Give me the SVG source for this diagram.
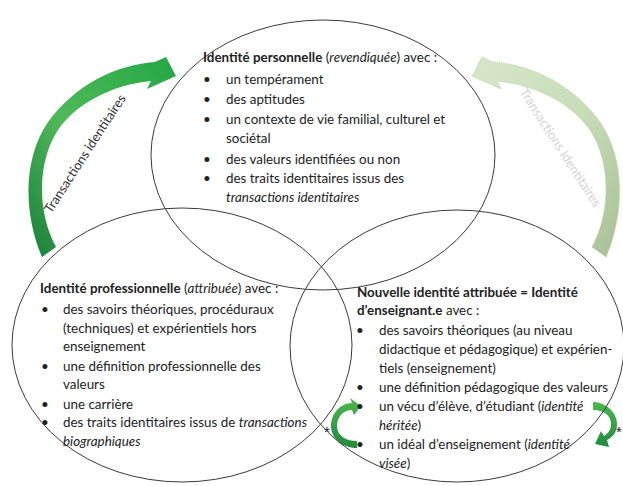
<svg xmlns="http://www.w3.org/2000/svg" width="623" height="486" viewBox="0 0 623 486">
<defs>
<style>
.ell{fill:none;stroke:#3a3a3a;stroke-width:1}
text{font-family:Lato,"Open Sans","Liberation Sans",sans-serif;font-size:13.4px;fill:#222}
.b{font-weight:bold}
.i{font-style:italic}
.arrowtxt{font-size:13px;fill:#333}
.arrowtxt2{font-size:13px;fill:#d4d4d4}
.star{font-family:"Liberation Sans",sans-serif;font-size:15px;fill:#222;text-anchor:middle}
</style>
<linearGradient id="gBig" x1="0" y1="1" x2="1" y2="0">
<stop offset="0" stop-color="#17803a"/>
<stop offset="0.45" stop-color="#4fb958"/>
<stop offset="1" stop-color="#22a844"/>
</linearGradient>
<linearGradient id="gPale" x1="0" y1="1" x2="1" y2="0">
<stop offset="0" stop-color="#a6c196"/>
<stop offset="0.5" stop-color="#c9ddb9"/>
<stop offset="1" stop-color="#d6e7c9"/>
</linearGradient>
<linearGradient id="gSmall" x1="0" y1="0" x2="0" y2="1">
<stop offset="0" stop-color="#4cb84f"/>
<stop offset="1" stop-color="#1e8c3a"/>
</linearGradient>
</defs>

<g id="connectors">
<path id="arrow-left" fill="url(#gBig)" d="M42,257 C24,215 22,160 48,122 C75,85 115,65 155,62 L166,57 L176,76 L147,89 L151,81 C110,85 75,105 58,130 C38,160 36,210 56,247 Z"/>
<g id="arrow-right" transform="translate(648,0) scale(-1,1)">
<path fill="url(#gPale)" stroke="#b7d3a3" stroke-width="1" stroke-dasharray="1 1" d="M42,257 C24,215 22,160 48,122 C75,85 115,65 155,62 L166,57 L176,76 L147,89 L151,81 C110,85 75,105 58,130 C38,160 36,210 56,247 Z"/>
</g>
<text class="arrowtxt" transform="translate(51,214) rotate(-57)">Transactions identitaires</text>
<text class="arrowtxt2" transform="translate(519,92) rotate(57)">Transactions identitaires</text>
<path id="arrow-small-left" fill="url(#gSmall)" d="M352,403 C340,403 331,414 331,426 C331,438 342,448 357,448 L357,441 C345,441 337,435 337,426 C337,417 343,410 352,410 L354,415 L361,406 L350,398 Z"/>
<path id="arrow-small-right" fill="url(#gSmall)" d="M593,402 C605,402 617,412 617,424 C617,432 613,437 607,440 L609,447 L595,444 L601,431 L604,436 C609,433 611,429 611,424 C611,415 603,410 593,410 Z"/>
<text class="star" x="327" y="437">*</text>
<text class="star" x="619" y="437">*</text>
</g>

<g id="node-personnelle">
<ellipse class="ell" cx="323" cy="155" rx="172" ry="135"/>
<text x="203" y="62"><tspan class="b">Identité personnelle</tspan> (<tspan class="i">revendiquée</tspan>) avec :</text>
<text x="203" y="84">•</text><text x="226" y="84">un tempérament</text>
<text x="203" y="104">•</text><text x="226" y="104">des aptitudes</text>
<text x="203" y="124">•</text><text x="226" y="124">un contexte de vie familial, culturel et</text>
<text x="226" y="143">sociétal</text>
<text x="203" y="164">•</text><text x="226" y="164">des valeurs identifiées ou non</text>
<text x="203" y="183">•</text><text x="226" y="183">des traits identitaires issus des</text>
<text x="226" y="202" class="i">transactions identitaires</text>
</g>

<g id="node-professionnelle">
<ellipse class="ell" cx="182" cy="345" rx="170" ry="137"/>
<text x="40" y="293"><tspan class="b">Identité professionnelle</tspan> (<tspan class="i">attribuée</tspan>) avec :</text>
<text x="41" y="314">•</text><text x="63" y="314">des savoirs théoriques, procéduraux</text>
<text x="63" y="333">(techniques) et expérientiels hors</text>
<text x="63" y="351">enseignement</text>
<text x="41" y="371">•</text><text x="63" y="371">une définition professionnelle des</text>
<text x="63" y="389">valeurs</text>
<text x="41" y="409">•</text><text x="63" y="409">une carrière</text>
<text x="41" y="427">•</text><text x="63" y="427">des traits identitaires issus de <tspan class="i">transactions</tspan></text>
<text x="63" y="446" class="i">biographiques</text>
</g>

<g id="node-nouvelle">
<ellipse class="ell" cx="457" cy="346" rx="167" ry="136"/>
<text x="357" y="297" class="b">Nouvelle identité attribuée = Identité</text>
<text x="357" y="315"><tspan class="b">d’enseignant.e</tspan> avec :</text>
<text x="356" y="335">•</text><text x="379" y="335">des savoirs théoriques (au niveau</text>
<text x="379" y="354">didactique et pédagogique) et expérien-</text>
<text x="379" y="373">tiels (enseignement)</text>
<text x="356" y="392">•</text><text x="379" y="392">une définition pédagogique des valeurs</text>
<text x="356" y="411">•</text><text x="379" y="411">un vécu d’élève, d’étudiant (<tspan class="i">identité</tspan></text>
<text x="379" y="430"><tspan class="i">héritée</tspan>)</text>
<text x="356" y="449">•</text><text x="379" y="449">un idéal d’enseignement (<tspan class="i">identité</tspan></text>
<text x="379" y="468"><tspan class="i">visée</tspan>)</text>
</g>
</svg>
